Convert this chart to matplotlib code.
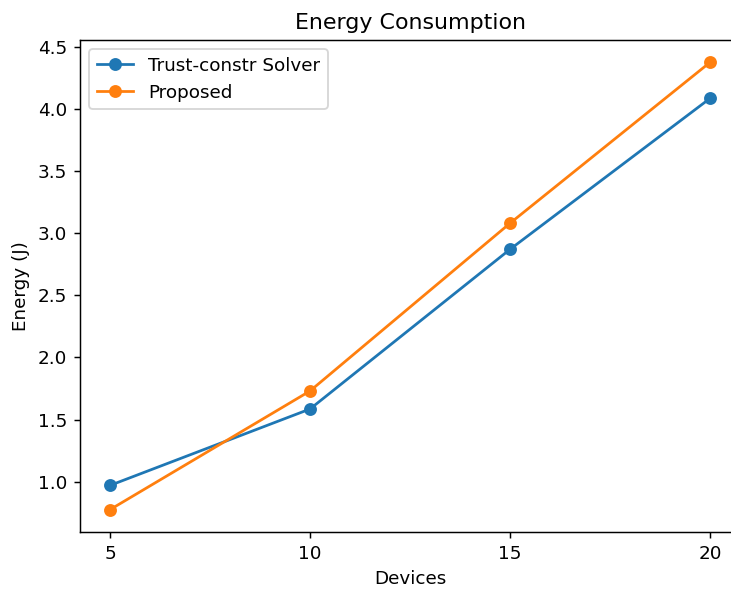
import matplotlib
matplotlib.use("Agg")
import matplotlib.pyplot as plt

devices = [5, 10, 15, 20]
trust_constr = [0.97, 1.585, 2.87, 4.085]
proposed = [0.775, 1.73, 3.08, 4.375]

W, H, DPI = 731, 589, 132.5
fig = plt.figure(figsize=(W / DPI, H / DPI), dpi=DPI)
ax = fig.add_axes([80 / W, (H - 532) / H, 660 / W, 492 / H])
ax.plot(devices, trust_constr, marker='o', label='Trust-constr Solver')
ax.plot(devices, proposed, marker='o', label='Proposed')
ax.set_xticks(devices)
ax.set_title('Energy Consumption')
ax.set_xlabel('Devices')
ax.set_ylabel('Energy (J)')
ax.legend(loc='upper left')
fig.savefig('out.png', dpi=DPI)
